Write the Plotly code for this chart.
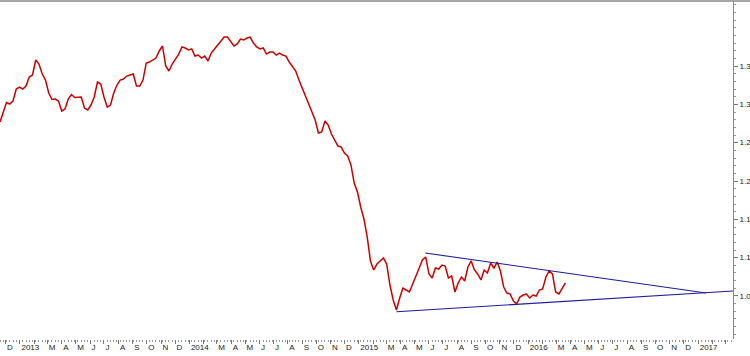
import pandas as pd
import plotly.graph_objects as go

# Weekly closes (EUR/USD style), starting 2012-11-19
start_date = "2012-11-19"
closes = [
    1.2770, 1.2887, 1.3024, 1.3004, 1.3043, 1.3200, 1.3226, 1.3200, 1.3239, 1.3356,
    1.3383, 1.3578, 1.3526, 1.3396, 1.3317, 1.3148, 1.3063, 1.3069, 1.3043, 1.2913,
    1.2939, 1.3069, 1.3128, 1.3089, 1.3096, 1.3096, 1.2952, 1.2926, 1.2991, 1.3096,
    1.3291, 1.3265, 1.3096, 1.2965, 1.2991, 1.3148, 1.3252, 1.3317, 1.3330, 1.3369,
    1.3383, 1.3396, 1.3239, 1.3239, 1.3317, 1.3539, 1.3552, 1.3578, 1.3604, 1.3696,
    1.3761, 1.3500, 1.3435, 1.3526, 1.3591, 1.3656, 1.3748, 1.3735, 1.3709, 1.3722,
    1.3630, 1.3643, 1.3604, 1.3630, 1.3565, 1.3669, 1.3722, 1.3774, 1.3839, 1.3878,
    1.3878, 1.3813, 1.3761, 1.3787, 1.3852, 1.3839, 1.3865, 1.3878, 1.3800, 1.3748,
    1.3722, 1.3735, 1.3656, 1.3682, 1.3682, 1.3643, 1.3669, 1.3643, 1.3630, 1.3552,
    1.3487, 1.3435, 1.3317, 1.3213, 1.3109, 1.3004, 1.2900, 1.2796, 1.2626, 1.2639,
    1.2783, 1.2730, 1.2613, 1.2535, 1.2456, 1.2443, 1.2365, 1.2326, 1.2209, 1.1974,
    1.1856, 1.1661, 1.1504, 1.1270, 1.0957, 1.0839, 1.0917, 1.0957, 1.0996, 1.0917,
    1.0643, 1.0448, 1.0317, 1.0474, 1.0604, 1.0578, 1.0552, 1.0657, 1.0774, 1.0865,
    1.0970, 1.1009, 1.0787, 1.0735, 1.0865, 1.0852, 1.0904, 1.0891, 1.0735, 1.0761,
    1.0552, 1.0670, 1.0748, 1.0696, 1.0878, 1.0957, 1.0839, 1.0787, 1.0709, 1.0839,
    1.0800, 1.0930, 1.0865, 1.0943, 1.0826, 1.0617, 1.0539, 1.0526, 1.0435, 1.0396,
    1.0487, 1.0513, 1.0526, 1.0474, 1.0513, 1.0500, 1.0578, 1.0591, 1.0748, 1.0826,
    1.0787, 1.0552, 1.0526, 1.0591, 1.0670,
]

# Triangle trend lines
upper_dates = ["2015-05-24", "2017-01-18"]
upper_vals = [1.1061, 1.0539]
lower_dates = ["2015-03-23", "2017-03-17"]
lower_vals = [1.0295, 1.0565]

# Axis ticks
y_tickvals = [1.05, 1.10, 1.15, 1.20, 1.25, 1.30, 1.35]
y_ticktext = ["1.0", "1.1", "1.1", "1.2", "1.2", "1.3", "1.3"]
month_letters = ["", "", "M", "A", "M", "J", "J", "A", "S", "O", "N", "D"]
x_range = ["2012-11-19", "2017-03-17"]
y_range = [0.9939, 1.4348]

dates = pd.date_range(start_date, periods=len(closes), freq="7D")
month_starts = pd.date_range("2012-12-01", "2017-03-01", freq="MS")
tick_text = [str(d.year) if d.month == 1 else month_letters[d.month - 1] for d in month_starts]
tick_text[-1] = ""

fig = go.Figure()
fig.add_trace(go.Scatter(x=dates, y=closes, mode="lines",
                         line=dict(color="#cc0000", width=1.5), hoverinfo="skip"))
fig.add_trace(go.Scatter(x=upper_dates, y=upper_vals, mode="lines",
                         line=dict(color="#1c1c9c", width=1.1)))
fig.add_trace(go.Scatter(x=lower_dates, y=lower_vals, mode="lines",
                         line=dict(color="#1c1c9c", width=1.1)))

fig.update_layout(
    template="none",
    width=750, height=356,
    margin=dict(l=0, r=17, t=1, b=17, pad=0),
    paper_bgcolor="white", plot_bgcolor="white",
    showlegend=False,
    font=dict(family="Liberation Sans, Arial, sans-serif", size=8, color="#222"),
    shapes=[dict(type="line", xref="paper", yref="paper", x0=0, x1=1.03, y0=1, y1=1,
                 line=dict(color="#888", width=1.5))],
)
fig.update_xaxes(
    automargin=False,
    range=x_range, showgrid=False, zeroline=False, showline=False,
    tickvals=month_starts, ticktext=tick_text, tickangle=0,
    ticks="outside", ticklen=4, tickcolor="#777", tickwidth=1,
    ticklabelposition="outside right", ticklabelshift=1, ticklabelstandoff=0,
    ticklabeloverflow="allow",
    minor=dict(ticks="outside", ticklen=2, tickcolor="#999",
               dtick=7 * 24 * 3600 * 1000, tick0="2012-11-19", showgrid=False),
)
fig.update_yaxes(
    automargin=False,
    side="right", range=y_range, showgrid=False, zeroline=False,
    showline=True, linecolor="#888", linewidth=1,
    tickvals=y_tickvals, ticktext=y_ticktext, tickangle=0,
    ticks="outside", ticklen=4, tickcolor="#777", showticklabels=True,
    minor=dict(ticks="outside", ticklen=2, tickcolor="#999", dtick=0.01, tick0=1.0,
               showgrid=False),
)

fig.write_html(
    "out.html",
    config={"displayModeBar": False},
    post_script="document.body.style.margin='0';document.body.style.overflow='hidden';",
)
